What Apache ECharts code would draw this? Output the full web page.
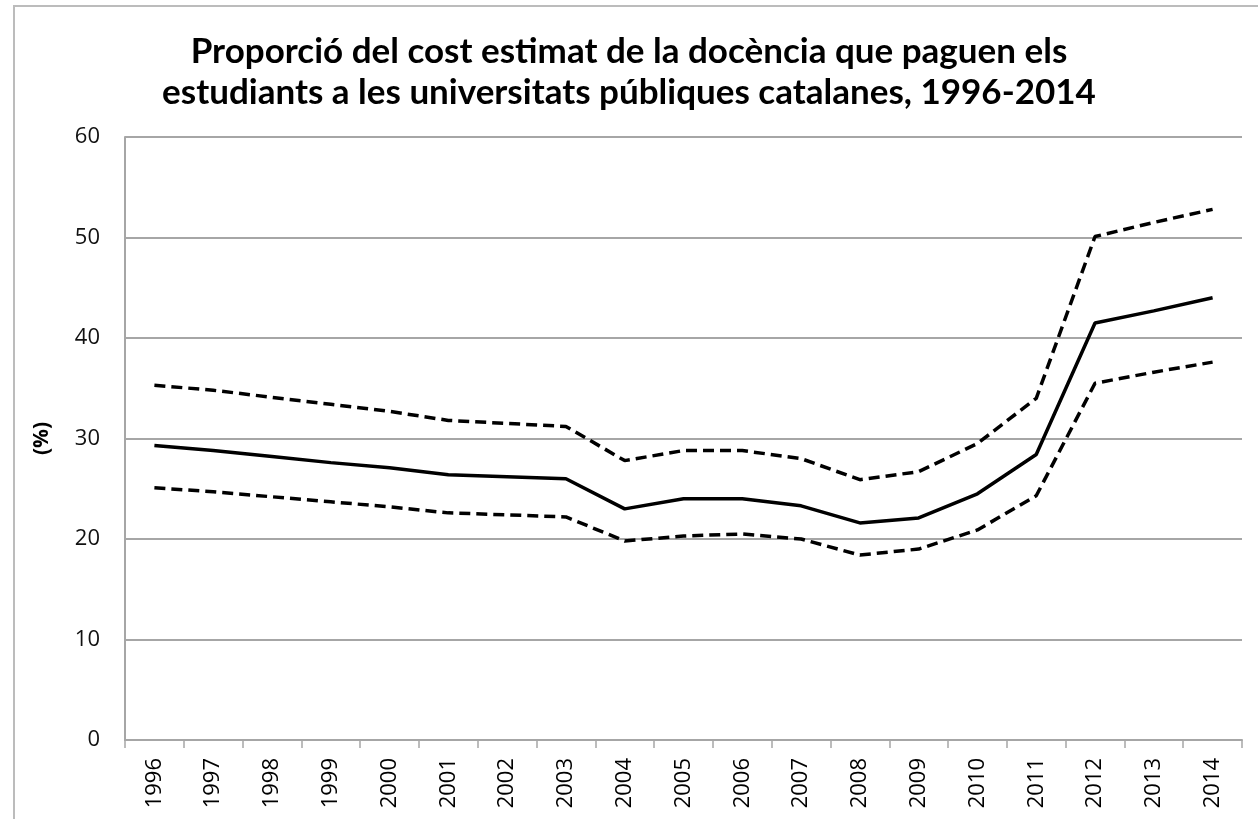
<!DOCTYPE html>
<html>
<head>
<meta charset="utf-8">
<script src="https://cdn.jsdelivr.net/npm/echarts@6/dist/echarts.min.js"></script>
<style>
  html, body { margin: 0; padding: 0; background: #fff; }
  #frame { position: absolute; left: 13px; top: 5px; width: 1258px; height: 830px;
           border-left: 2px solid #bcbcbc; border-top: 2px solid #bcbcbc; }
  #chart { position: absolute; left: 0; top: 0; width: 1258px; height: 819px; }
</style>
</head>
<body>
<div id="frame"></div>
<div id="chart"></div>
<script>
// anys
const years = ['1996', '1997', '1998', '1999', '2000', '2001', '2002', '2003', '2004', '2005',
               '2006', '2007', '2008', '2009', '2010', '2011', '2012', '2013', '2014'];
// proporció estimada (%)
const central = [29.3, 28.8, 28.2, 27.6, 27.1, 26.4, 26.2, 26.0, 23.0, 24.0,
                 24.0, 23.3, 21.6, 22.1, 24.5, 28.4, 41.5, 42.7, 44.0];
// límit superior
const upper = [35.3, 34.8, 34.1, 33.4, 32.7, 31.8, 31.5, 31.2, 27.8, 28.8,
               28.8, 28.0, 25.9, 26.7, 29.5, 34.0, 50.1, 51.5, 52.8];
// límit inferior
const lower = [25.1, 24.7, 24.2, 23.7, 23.2, 22.6, 22.4, 22.2, 19.8, 20.3,
               20.5, 20.0, 18.4, 19.0, 20.9, 24.3, 35.5, 36.6, 37.6];

const titleText = 'Proporció del cost estimat de la docència que paguen els\nestudiants a les universitats públiques catalanes, 1996-2014';

let myChart = echarts.init(document.getElementById('chart'));
let option = {
    animation: false,
    title: {
        text: titleText,
        left: 'center',
        top: 26,
        textStyle: {
            fontFamily: 'Lato, Open Sans, sans-serif',
            fontWeight: 'bold',
            fontSize: 35,
            lineHeight: 41,
            color: '#000'
        }
    },
    grid: {
        left: 125,
        right: 16,
        top: 137,
        bottom: 79
    },
    xAxis: {
        type: 'category',
        data: years,
        boundaryGap: true,
        axisLine: { lineStyle: { color: '#a6a6a6', width: 2 } },
        axisTick: { show: true, length: 8, lineStyle: { color: '#a6a6a6', width: 1.5 } },
        axisLabel: {
            rotate: 90,
            margin: 18,
            fontSize: 22,
            color: '#000',
            fontFamily: 'Open Sans, sans-serif'
        }
    },
    yAxis: {
        type: 'value',
        min: 0,
        max: 60,
        interval: 10,
        name: '(%)',
        nameLocation: 'middle',
        nameGap: 72,
        nameRotate: 90,
        nameTextStyle: {
            fontSize: 21,
            fontWeight: 'bold',
            color: '#000',
            fontFamily: 'Open Sans, sans-serif'
        },
        axisLine: { show: true, lineStyle: { color: '#a6a6a6', width: 2 } },
        axisTick: { show: false },
        axisLabel: {
            fontSize: 22,
            margin: 25,
            color: '#111',
            fontFamily: 'Open Sans, sans-serif'
        },
        splitLine: { lineStyle: { color: '#a6a6a6', width: 2 } }
    },
    series: [
        {
            name: 'superior',
            type: 'line',
            data: upper,
            symbol: 'none',
            lineStyle: { color: '#000', width: 3.5, type: [11, 6] }
        },
        {
            name: 'central',
            type: 'line',
            data: central,
            symbol: 'none',
            lineStyle: { color: '#000', width: 3.5 }
        },
        {
            name: 'inferior',
            type: 'line',
            data: lower,
            symbol: 'none',
            lineStyle: { color: '#000', width: 3.5, type: [11, 6] }
        }
    ]
};
myChart.setOption(option);
</script>
</body>
</html>
